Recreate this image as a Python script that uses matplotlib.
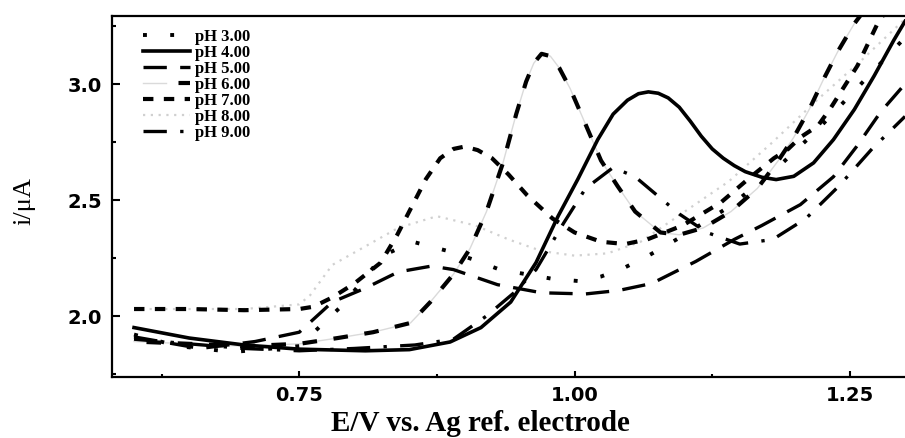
import matplotlib
matplotlib.use('Agg')
import matplotlib.pyplot as plt
from matplotlib.ticker import MultipleLocator, FormatStrFormatter
from matplotlib.legend_handler import HandlerTuple

# values (E in V, i in uA)
e_ph3 = [0.600, 0.640, 0.690, 0.750, 0.790, 0.826, 0.853, 0.885, 0.907, 0.932, 0.980, 1.005,
         1.024, 1.046, 1.067, 1.100, 1.140, 1.180, 1.220, 1.260, 1.300]
i_ph3 = [1.92, 1.87, 1.845, 1.87, 2.05, 2.26, 2.32, 2.28, 2.245, 2.20, 2.16, 2.15,
         2.17, 2.21, 2.26, 2.35, 2.47, 2.62, 2.80, 3.00, 3.20]

e_ph4 = [0.600, 0.650, 0.700, 0.750, 0.810, 0.850, 0.887, 0.915, 0.942, 0.965, 0.985, 1.003,
         1.021, 1.035, 1.048, 1.058, 1.067, 1.076, 1.085, 1.095, 1.105, 1.115, 1.125, 1.135,
         1.145, 1.155, 1.170, 1.183, 1.199, 1.217, 1.235, 1.254, 1.272, 1.290, 1.300]
i_ph4 = [1.950, 1.905, 1.875, 1.857, 1.850, 1.855, 1.888, 1.950, 2.060, 2.230, 2.430, 2.590,
         2.760, 2.870, 2.930, 2.958, 2.966, 2.960, 2.940, 2.900, 2.840, 2.775, 2.720, 2.680,
         2.648, 2.622, 2.598, 2.588, 2.602, 2.660, 2.760, 2.890, 3.035, 3.190, 3.270]

e_ph5 = [0.600, 0.660, 0.710, 0.750, 0.780, 0.810, 0.840, 0.870, 0.890, 0.930, 0.970, 1.010,
         1.040, 1.070, 1.110, 1.145, 1.170, 1.205, 1.235, 1.256, 1.278, 1.300]
i_ph5 = [1.91, 1.86, 1.89, 1.93, 2.06, 2.12, 2.19, 2.215, 2.20, 2.135, 2.10, 2.095,
         2.11, 2.14, 2.235, 2.33, 2.39, 2.48, 2.60, 2.73, 2.88, 3.00]

e_ph6 = [0.600, 0.650, 0.700, 0.750, 0.785, 0.817, 0.851, 0.869, 0.890, 0.905, 0.920, 0.935,
         0.947, 0.956, 0.963, 0.970, 0.978, 0.986, 0.996, 1.006, 1.015, 1.024, 1.039, 1.055,
         1.078, 1.095, 1.117, 1.142, 1.166, 1.185, 1.199, 1.213, 1.226, 1.239, 1.254, 1.265]
i_ph6 = [1.89, 1.88, 1.87, 1.88, 1.905, 1.93, 1.97, 2.06, 2.18, 2.29, 2.45, 2.66,
         2.87, 3.01, 3.09, 3.13, 3.12, 3.07, 2.98, 2.87, 2.77, 2.67, 2.56, 2.45,
         2.36, 2.35, 2.38, 2.45, 2.55, 2.67, 2.77, 2.89, 3.02, 3.14, 3.26, 3.33]

e_ph7 = [0.600, 0.650, 0.700, 0.750, 0.763, 0.780, 0.800, 0.824, 0.839, 0.852, 0.865, 0.878,
         0.890, 0.900, 0.912, 0.925, 0.940, 0.957, 0.980, 1.000, 1.024, 1.046, 1.066, 1.098,
         1.133, 1.160, 1.181, 1.194, 1.205, 1.221, 1.233, 1.245, 1.257, 1.266, 1.275, 1.285]
i_ph7 = [2.03, 2.03, 2.025, 2.03, 2.04, 2.08, 2.14, 2.23, 2.35, 2.47, 2.59, 2.68,
         2.72, 2.73, 2.715, 2.68, 2.61, 2.52, 2.42, 2.36, 2.32, 2.31, 2.33, 2.39,
         2.49, 2.60, 2.68, 2.72, 2.77, 2.82, 2.90, 2.99, 3.08, 3.17, 3.26, 3.33]

e_ph8 = [0.600, 0.700, 0.750, 0.760, 0.780, 0.810, 0.840, 0.875, 0.910, 0.940, 0.970, 1.000,
         1.030, 1.060, 1.100, 1.140, 1.180, 1.220, 1.260, 1.300]
i_ph8 = [2.03, 2.03, 2.05, 2.09, 2.22, 2.30, 2.38, 2.43, 2.39, 2.33, 2.28, 2.26,
         2.27, 2.32, 2.45, 2.58, 2.75, 2.93, 3.10, 3.28]

e_ph9 = [0.600, 0.650, 0.700, 0.750, 0.800, 0.855, 0.890, 0.920, 0.945, 0.965, 0.990, 1.010,
         1.035, 1.055, 1.075, 1.095, 1.120, 1.150, 1.180, 1.210, 1.240, 1.270, 1.300]
i_ph9 = [1.90, 1.88, 1.86, 1.85, 1.86, 1.875, 1.90, 2.00, 2.10, 2.20, 2.40, 2.55,
         2.64, 2.60, 2.52, 2.44, 2.36, 2.31, 2.33, 2.42, 2.56, 2.72, 2.86]

labels = ['pH 3.00', 'pH 4.00', 'pH 5.00', 'pH 6.00', 'pH 7.00', 'pH 8.00', 'pH 9.00']

fig = plt.figure(figsize=(9.05, 4.39), dpi=100)
ax = fig.add_axes([112 / 905, 61 / 439, 793 / 905, 361 / 439])

h3, = ax.plot(e_ph3, i_ph3, color='black', lw=2.8, ls=(0, (1, 6)), dash_capstyle='butt', zorder=3)
h5, = ax.plot(e_ph5, i_ph5, color='black', lw=2.4, ls=(0, (7, 4)), zorder=3)
g6, = ax.plot(e_ph6, i_ph6, color='#dadada', lw=1.0, zorder=2)
h6, = ax.plot(e_ph6, i_ph6, color='black', lw=3.0, ls=(4.5, (3.5, 4)), zorder=3)
h7, = ax.plot(e_ph7, i_ph7, color='black', lw=3.0, ls=(0, (2.5, 2.5)), zorder=3)
h8, = ax.plot(e_ph8, i_ph8, color='#d0d0d0', lw=1.6, ls=(0, (1, 2.5)), zorder=2)
h9, = ax.plot(e_ph9, i_ph9, color='black', lw=2.4, ls=(0, (7, 4, 1, 4)), zorder=3)
h4, = ax.plot(e_ph4, i_ph4, color='black', lw=2.6, zorder=4)

ax.set_xlim(0.58, 1.30)
ax.set_ylim(1.737, 3.293)

ax.xaxis.set_major_locator(MultipleLocator(0.25))
ax.xaxis.set_minor_locator(MultipleLocator(0.125))
ax.yaxis.set_major_locator(MultipleLocator(0.5))
ax.yaxis.set_minor_locator(MultipleLocator(0.25))
ax.xaxis.set_major_formatter(FormatStrFormatter('%.2f'))
ax.yaxis.set_major_formatter(FormatStrFormatter('%.1f'))

ax.spines['right'].set_visible(False)
for s in ['left', 'bottom', 'top']:
    ax.spines[s].set_linewidth(1.6)

ax.tick_params(axis='x', which='major', direction='in', length=4, width=1.5, pad=6)
ax.tick_params(axis='x', which='minor', direction='in', length=2, width=1.5)
ax.tick_params(axis='y', which='major', direction='in', length=6, width=1.5, pad=7)
ax.tick_params(axis='y', which='minor', direction='in', length=3, width=1.5)
ax.tick_params(top=False, right=False, which='both')
for lab in ax.get_xticklabels() + ax.get_yticklabels():
    lab.set_fontfamily('DejaVu Sans')
    lab.set_fontweight('bold')
    lab.set_fontsize(14)

ax.set_xlabel('E/V vs. Ag ref. electrode', fontfamily='Liberation Serif', fontweight='bold', fontsize=21)
ax.xaxis.set_label_coords(0.464, -0.09)
ax.set_ylabel('i/\u03bcA', fontfamily='Liberation Serif', fontsize=19)
ax.yaxis.set_label_coords(-0.11, 0.49)
ax.yaxis.label.set_verticalalignment('center')

ax.legend([h3, h4, h5, (g6, h6), h7, h8, h9], labels,
          handler_map={tuple: HandlerTuple(ndivide=None, pad=0)},
          loc='upper left', bbox_to_anchor=(0.035, 0.975), frameon=False,
          prop={'family': 'Liberation Serif', 'weight': 'bold', 'size': 12},
          handlelength=2.8, handletextpad=0.3, labelspacing=0.0, borderaxespad=0, borderpad=0.2)

fig.savefig('out.png', dpi=100)
